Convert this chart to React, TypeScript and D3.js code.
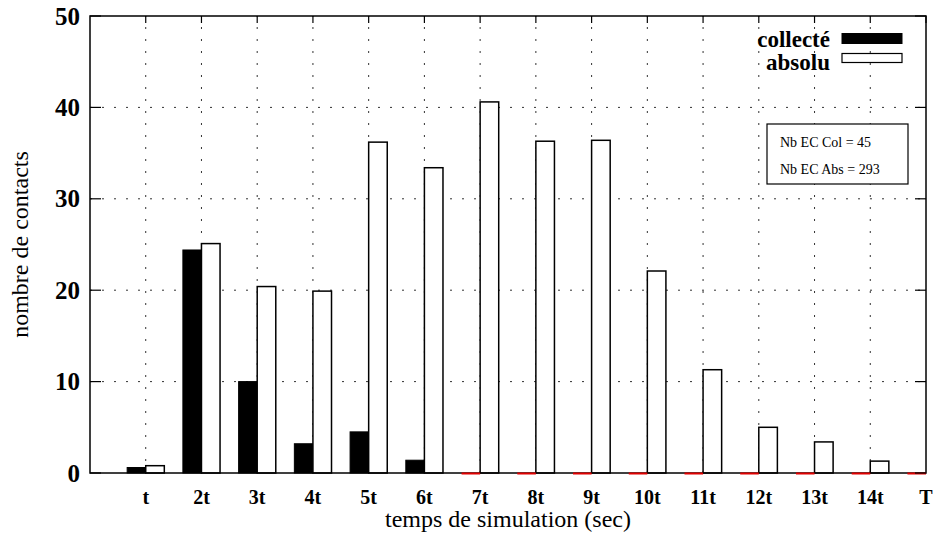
import React from "react";
import * as d3 from "d3";

const categories = ["t", "2t", "3t", "4t", "5t", "6t", "7t", "8t", "9t", "10t", "11t", "12t", "13t", "14t", "T"];
const collecte = [0.6, 24.4, 10.0, 3.2, 4.5, 1.4, 0, 0, 0, 0, 0, 0, 0, 0, 0];
const absolu = [0.8, 25.1, 20.4, 19.9, 36.2, 33.4, 40.6, 36.3, 36.4, 22.1, 11.3, 5.0, 3.4, 1.3, 0];
const yTicks = [0, 10, 20, 30, 40, 50];
const seriesNames = ["collecté", "absolu"];
const boxLines = ["Nb EC Col = 45", "Nb EC Abs = 293"];

const W = 937;
const H = 543;
const left = 90;
const right = 926;
const top = 16;
const bottom = 473;

export default function App() {
  const x = d3.scaleLinear().domain([0, categories.length]).range([left, right]);
  const y = d3.scaleLinear().domain([0, 50]).range([bottom, top]);
  const step = x(1) - x(0);
  const bw = step / 3;
  const serif = "'Liberation Serif', 'Times New Roman', serif";

  return (
    <svg width={W} height={H} style={{ position: "absolute", left: 0, top: 0, background: "#fff" }}>
      <rect x={0} y={0} width={W} height={H} fill="#fff" />
      {/* grid */}
      <g stroke="#333" strokeWidth={1} strokeDasharray="2,10">
        {yTicks.slice(1, -1).map((t) => (
          <line key={"h" + t} x1={left} x2={right} y1={y(t)} y2={y(t)} />
        ))}
        {categories.slice(0, -1).map((c, i) => (
          <line key={"v" + c} x1={x(i + 1)} x2={x(i + 1)} y1={bottom} y2={top} />
        ))}
      </g>
      {/* bars */}
      {categories.map((c, i) => {
        const cx = x(i + 1);
        return (
          <g key={c}>
            {collecte[i] > 0 ? (
              <rect x={cx - bw} y={y(collecte[i])} width={bw} height={y(0) - y(collecte[i])} fill="#000" stroke="#000" strokeWidth={1} />
            ) : null}
            {absolu[i] > 0 ? (
              <rect x={cx} y={y(absolu[i])} width={bw} height={y(0) - y(absolu[i])} fill="#fff" stroke="#000" strokeWidth={1.5} />
            ) : null}
          </g>
        );
      })}
      {/* frame */}
      <rect x={left} y={top} width={right - left} height={bottom - top} fill="none" stroke="#000" strokeWidth={1.5} />
      {/* zero-value marks */}
      {categories.map((c, i) =>
        collecte[i] === 0 ? (
          <line key={"z" + c} x1={x(i + 1) - bw} x2={x(i + 1)} y1={bottom + 0.5} y2={bottom + 0.5} stroke="#e00000" strokeWidth={2} />
        ) : null
      )}
      {/* y ticks */}
      {yTicks.map((t) => (
        <g key={"yt" + t}>
          <line x1={left} x2={left + 11} y1={y(t)} y2={y(t)} stroke="#000" strokeWidth={1.2} />
          <line x1={right} x2={right - 11} y1={y(t)} y2={y(t)} stroke="#000" strokeWidth={1.2} />
          <text x={80} y={y(t) + 8.5} textAnchor="end" fontFamily={serif} fontWeight="bold" fontSize={25} fill="#000">
            {t}
          </text>
        </g>
      ))}
      {/* x ticks */}
      {categories.map((c, i) => (
        <g key={"xt" + c}>
          <line x1={x(i + 1)} x2={x(i + 1)} y1={top} y2={top + 7} stroke="#000" strokeWidth={1.2} />
          <text x={x(i + 1)} y={504} textAnchor="middle" fontFamily={serif} fontWeight="bold" fontSize={20} fill="#000">
            {c}
          </text>
        </g>
      ))}
      {/* axis titles */}
      <text x={(left + right) / 2} y={527} textAnchor="middle" fontFamily={serif} fontSize={24} fill="#000">
        temps de simulation (sec)
      </text>
      <text transform={`translate(28,${(top + bottom) / 2}) rotate(-90)`} textAnchor="middle" fontFamily={serif} fontSize={24} fill="#000">
        nombre de contacts
      </text>
      {/* legend */}
      <text x={830} y={47} textAnchor="end" fontFamily={serif} fontWeight="bold" fontSize={23} fill="#000">
        {seriesNames[0]}
      </text>
      <rect x={842} y={33.5} width={60} height={10} fill="#000" stroke="#000" strokeWidth={1} />
      <text x={830} y={69.5} textAnchor="end" fontFamily={serif} fontWeight="bold" fontSize={23} fill="#000">
        {seriesNames[1]}
      </text>
      <rect x={842} y={53.5} width={60} height={9} fill="#fff" stroke="#000" strokeWidth={1.2} />
      {/* info box */}
      <rect x={767} y={124} width={141} height={60} fill="#fff" stroke="#000" strokeWidth={1.2} />
      {boxLines.map((l, i) => (
        <text key={l} x={780} y={147 + i * 26.5} fontFamily={serif} fontSize={14} fill="#000">
          {l}
        </text>
      ))}
    </svg>
  );
}
